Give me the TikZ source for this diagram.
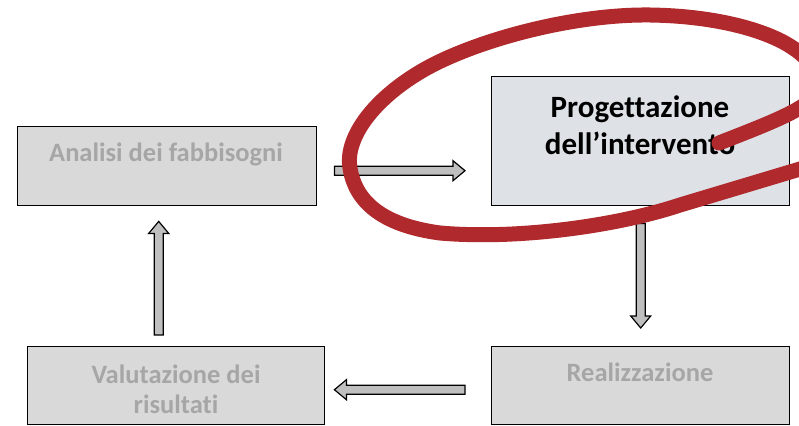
\documentclass[tikz,border=0pt]{standalone}
\usepackage{fontspec}
\setmainfont[Ligatures=NoCommon]{Carlito}
\usetikzlibrary{calc}
\definecolor{boxgrey}{RGB}{217,217,217}
\definecolor{boxblue}{RGB}{222,226,231}
\definecolor{txtgrey}{RGB}{166,166,166}
\definecolor{arrgrey}{RGB}{191,191,191}
\definecolor{markred}{RGB}{175,41,45}
\tikzset{
  stagebox/.style={draw=black, line width=1.4pt, fill=boxgrey, rectangle, inner sep=0pt, anchor=north west},
  activebox/.style={stagebox, fill=boxblue},
  greytext/.style={font=\bfseries\fontsize{26.5}{30}\selectfont, text=txtgrey, align=center, inner sep=0pt, anchor=base},
  blacktext/.style={font=\bfseries\fontsize{31}{37}\selectfont, text=black, align=center, inner sep=0pt, anchor=base},
  blockarrow/.style={draw=black, line width=1.2pt, fill=arrgrey, line join=miter},
  redmark/.style={draw=markred, line width=15pt, line cap=round, line join=round}
}
\newcommand\blockarr[2]{%
  \coordinate (hb) at ($(#2)!12pt!(#1)$);
  \draw[blockarrow] ($(#1)!4.5pt!90:(#2)$) -- ($(hb)!4.5pt!90:(#2)$) -- ($(hb)!10pt!90:(#2)$) -- (#2)
    -- ($(hb)!10pt!-90:(#2)$) -- ($(hb)!4.5pt!-90:(#2)$) -- ($(#1)!4.5pt!-90:(#2)$) -- cycle;}
\begin{document}
\begin{tikzpicture}[x=1pt,y=-1pt]
\useasboundingbox (0,0) rectangle (799,425);
% boxes
\node[stagebox, minimum width=299pt, minimum height=79pt] (analisi) at (17,126) {};
\node[activebox, minimum width=298pt, minimum height=129pt] (prog) at (491,76) {};
\node[stagebox, minimum width=298pt, minimum height=78pt] (real) at (491,346) {};
\node[stagebox, minimum width=297pt, minimum height=78pt] (valut) at (27,346) {};
% texts (base anchor = baseline of the last line)
\node[greytext] (analisi-t) at (166,161) {Analisi dei fabbisogni};
\node[blacktext] (prog-t) at (640,154) {Progettazione\\dell’intervento};
\node[greytext] (real-t) at (640,381) {Realizzazione};
\node[greytext] (valut-t) at (176,413) {Valutazione dei\\risultati};
% arrow end points
\coordinate (a1s) at ($(analisi.east)+(17,4.5)$);
\coordinate (a1e) at ($(prog.west)+(-26,29.5)$);
\coordinate (a2s) at ($(prog.south)+(0,17)$);
\coordinate (a2e) at ($(real.north)+(0,-18)$);
\coordinate (a3s) at ($(real.west)+(-26,4)$);
\coordinate (a3e) at ($(valut.east)+(9,4)$);
\coordinate (a4s) at ($(valut.north)+(-17.5,-11)$);
\coordinate (a4e) at ($(analisi.south)+(-8.5,15)$);
\blockarr{a1s}{a1e}
\blockarr{a2s}{a2e}
\blockarr{a3s}{a3e}
\blockarr{a4s}{a4e}
% red hand-drawn mark
\begin{scope}
\clip (0,0) rectangle (799,425);
\draw[redmark] (719,143) .. controls (765,125) and (805,110) .. (815,95)
  .. controls (822,82) and (815,62) .. (793,48)
  .. controls (770,32) and (720,16) .. (650,15)
  .. controls (570,14) and (470,42) .. (420,72)
  .. controls (370,102) and (345,140) .. (350,168)
  .. controls (355,200) and (380,225) .. (440,233)
  .. controls (520,240) and (620,225) .. (680,205)
  .. controls (730,190) and (780,175) .. (830,160);
\end{scope}
\end{tikzpicture}
\end{document}
